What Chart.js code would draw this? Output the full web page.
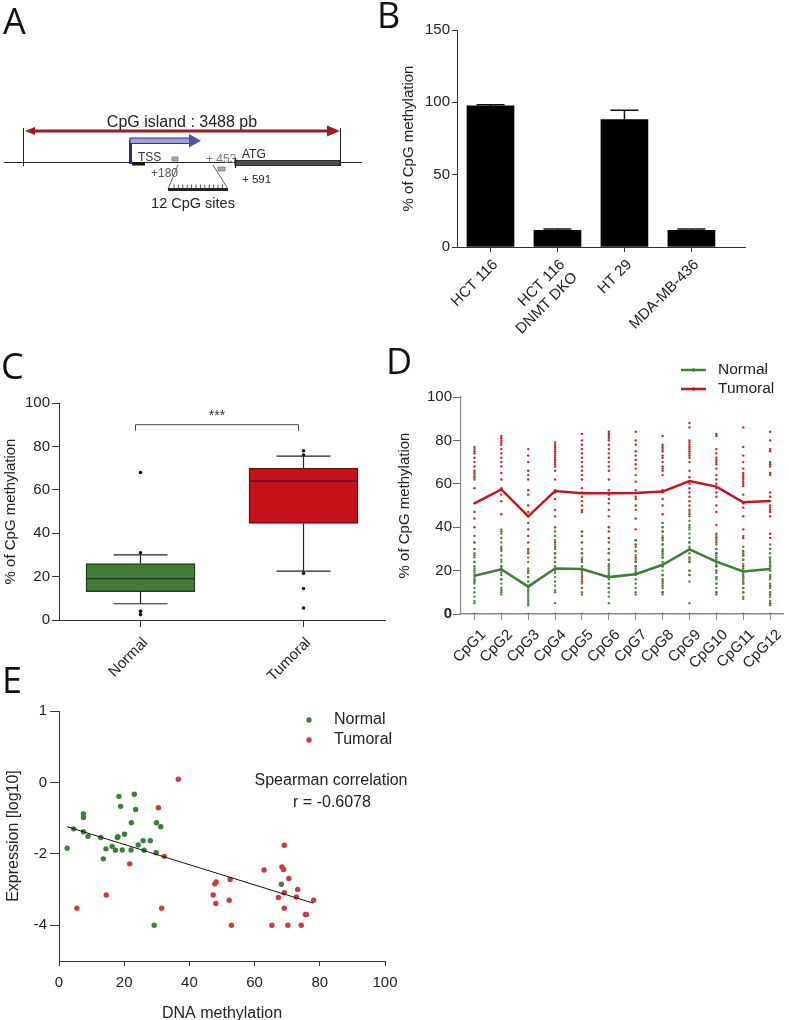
<!DOCTYPE html>
<html>
<head>
<meta charset="utf-8">
<script src="https://cdn.jsdelivr.net/npm/chart.js@4.4.1/dist/chart.umd.min.js"></script>
<style>
html, body { margin: 0; padding: 0; background: #fff; overflow: hidden; width: 789px; height: 1020px; }
canvas { position: absolute; }
.tag { position: absolute; z-index: 2; font: 36px/36px "Open Sans", sans-serif; color: #111; }
</style>
</head>
<body>
<div class="tag" style="left:3px;top:3px">A</div>
<div class="tag" style="left:377px;top:-3px">B</div>
<div class="tag" style="left:1px;top:348px">C</div>
<div class="tag" style="left:386px;top:343px">D</div>
<div class="tag" style="left:2px;top:662px">E</div>

<canvas id="panelA" width="380" height="230" style="left:0;top:0"></canvas>
<canvas id="panelB" width="409" height="345" style="left:380px;top:0"></canvas>
<canvas id="panelC" width="390" height="370" style="left:0;top:330px"></canvas>
<canvas id="panelD" width="399" height="370" style="left:390px;top:330px"></canvas>
<canvas id="panelE" width="420" height="335" style="left:0;top:690px"></canvas>

<script>
// ---- data ----
// B: methylation of cell lines
const cellLines = ['HCT 116', ['HCT 116', 'DNMT DKO'], 'HT 29', 'MDA-MB-436'];
const cellMeth = [97.5, 11.5, 88, 11.5];
const cellErr = [0.8, 1, 6.5, 1];
const bTicks = [0, 50, 100, 150];

// C: box plot normal vs tumoral
const boxGroups = ['Normal', 'Tumoral'];
const boxLow = [7.5, 22.5];
const boxQ1 = [13, 44.5];
const boxMed = [19, 64];
const boxQ3 = [26, 70];
const boxHigh = [30, 75.5];
const normalOut = [68, 31, 4, 2.5];
const tumoralOut = [78, 76, 21.5, 14.5, 5.5];
const cTicks = [0, 20, 40, 60, 80, 100];
const sigLevel = 90;
const sigLabel = '***';

// D: methylation per CpG site
const cpgLabels = ['CpG1', 'CpG2', 'CpG3', 'CpG4', 'CpG5', 'CpG6', 'CpG7', 'CpG8', 'CpG9', 'CpG10', 'CpG11', 'CpG12'];
const normalMean = [17.6, 20.6, 12.6, 21, 20.7, 17, 18.3, 22.7, 29.8, 24.1, 19.6, 20.7];
const tumoralMean = [51, 57.4, 45, 56.7, 55.7, 55.7, 55.8, 56.4, 61.3, 58.7, 51.5, 52.1];
const normalDots = [
    [63, 62, 33, 30, 28, 26, 24, 22, 21, 19, 18, 17, 16, 15, 14, 12, 10, 8, 6, 5],
    [70, 39, 37, 33, 31, 29, 27, 25, 24, 22, 21, 20, 19, 18, 16, 14, 12, 11, 10, 9],
    [29, 26, 24, 21, 19, 17, 15, 13, 12, 11, 10, 9, 8, 7, 6, 5, 4],
    [40, 38, 36, 34, 32, 30, 28, 26, 24, 22, 21, 20, 19, 17, 15, 13, 11, 10, 5],
    [38, 36, 33, 30, 28, 26, 24, 22, 21, 20, 19, 18, 16, 14, 12, 10, 9],
    [28, 25, 23, 22, 21, 20, 19, 18, 17, 16, 14, 12, 10, 8, 5],
    [34, 31, 29, 27, 25, 24, 22, 21, 20, 19, 18, 16, 14, 12, 10, 9],
    [42, 40, 38, 36, 34, 32, 30, 28, 27, 26, 24, 22, 20, 18, 16, 14, 12, 10, 9],
    [47, 45, 43, 41, 40, 39, 37, 35, 33, 31, 30, 28, 26, 25, 24, 20, 18, 15, 5],
    [36, 34, 32, 30, 28, 27, 25, 24, 23, 22, 20, 19, 17, 16, 14, 12, 10, 9],
    [36, 31, 28, 27, 25, 23, 21, 20, 19, 18, 17, 16, 15, 14, 12, 10, 8, 7],
    [32, 30, 28, 26, 25, 24, 23, 22, 21, 20, 18, 16, 14, 12, 10, 8, 6, 4]
];
const tumoralDots = [
    [77, 76, 75, 74, 72, 70, 68, 66, 65, 64, 63, 58, 51, 47, 44, 40, 36, 33, 30, 27, 24, 20, 15, 0],
    [82, 81, 80, 79, 78, 76, 74, 72, 70, 68, 65, 62, 58, 57, 55, 52, 46, 38, 35, 30, 22, 16, 0],
    [76, 73, 70, 66, 64, 62, 57, 55, 50, 47, 45, 42, 39, 36, 33, 30, 28, 20, 19, 17, 0],
    [79, 78, 77, 76, 75, 74, 73, 72, 71, 70, 69, 68, 66, 62, 57, 56, 53, 48, 45, 40, 36, 33, 31, 28, 26, 24, 0],
    [83, 80, 78, 76, 74, 72, 70, 68, 66, 64, 62, 58, 56, 54, 52, 50, 48, 47, 38, 36, 33, 30, 28, 25, 20, 17, 15, 12, 0],
    [84, 83, 82, 81, 80, 78, 76, 74, 72, 70, 68, 66, 62, 57, 55, 53, 51, 48, 45, 40, 38, 35, 33, 30, 28, 25, 22, 18, 14, 12, 0],
    [84, 80, 78, 75, 73, 71, 69, 67, 64, 61, 57, 54, 53, 50, 48, 44, 39, 34, 32, 29, 26, 24, 22, 19, 0],
    [82, 78, 77, 76, 75, 73, 72, 70, 68, 67, 66, 64, 57, 56, 53, 50, 46, 42, 40, 38, 35, 32, 29, 26, 22, 18, 15, 13, 10, 0],
    [88, 86, 80, 79, 78, 77, 76, 75, 74, 73, 72, 70, 66, 63, 60, 58, 56, 54, 52, 50, 48, 46, 33, 30, 26, 24, 20, 18, 0],
    [83, 82, 76, 74, 72, 71, 70, 69, 67, 64, 62, 60, 58, 56, 54, 50, 47, 41, 37, 35, 33, 30, 28, 26, 24, 22, 20, 17, 14, 10, 0],
    [86, 77, 73, 70, 67, 65, 64, 63, 62, 61, 60, 59, 55, 51, 49, 45, 39, 35, 29, 27, 25, 22, 20, 17, 14, 12, 10, 0],
    [84, 80, 76, 75, 70, 69, 68, 65, 64, 56, 54, 52, 50, 49, 48, 47, 45, 37, 35, 30, 26, 24, 22, 20, 17, 13, 9, 5, 0]
];
const dTicks = [0, 20, 40, 60, 80, 100];

// E: expression vs methylation
const normalMeth = [2.5, 4.5, 7.5, 7.5, 7.5, 8.9, 12.8, 13.6, 14.4, 16.3, 17.3, 17.9, 18.1, 18.4, 18.9, 19.4, 20.1, 22.1, 22.2, 23.1, 23.5, 24.3, 25.8, 26.1, 28.0, 29.2, 29.8, 29.9, 31.2, 68.2];
const normalExpr = [-1.84, -1.30, -0.88, -0.98, -1.38, -1.51, -1.54, -2.14, -1.86, -1.79, -1.90, -1.54, -1.52, -0.39, -0.67, -1.89, -1.45, -1.89, -1.13, -0.33, -0.76, -1.75, -1.63, -1.90, -1.63, -4.0, -1.97, -1.13, -1.24, -2.85];
const tumoralMeth = [5.5, 14.5, 21.7, 30.5, 31.5, 32.3, 36.6, 47.3, 47.8, 48.2, 48.1, 52.2, 52.5, 52.9, 62.9, 65.3, 67.3, 68.4, 68.9, 69.1, 69.1, 69.1, 70.2, 70.5, 72.8, 73.2, 74.3, 75.6, 75.9, 78.1];
const tumoralExpr = [-3.52, -3.15, -2.28, -0.71, -3.52, -2.07, 0.09, -3.15, -2.84, -2.79, -3.39, -3.30, -2.72, -4.0, -2.45, -4.0, -3.22, -2.37, -2.44, -1.76, -3.09, -3.52, -4.0, -2.69, -3.21, -3.0, -4.0, -3.70, -3.70, -3.30];
const fitMeth = [2.5, 78];
const fitExpr = [-1.24, -3.38];
const eTickValues = [2, 0, -2, -4];
const eTickLabels = ['1', '0', '-2', '-4'];
const eXTicks = [0, 20, 40, 60, 80, 100];
const spearmanR = '-0.6078';

// ---- common ----
const FONT = '"Liberation Sans", Arial, sans-serif';
Chart.defaults.font.family = FONT;
Chart.defaults.color = '#222';
const GREEN = '#3f7d39';
const RED = '#c5141c';

const base = {
    responsive: false,
    animation: false,
    devicePixelRatio: 1,
    plugins: { legend: { display: false }, tooltip: { enabled: false } }
};

function tickList(vals) {
    return s => { s.ticks = vals.map(v => ({ value: v })); };
}

// ---- A: gene diagram ----
const diagram = {
    id: 'diagram',
    afterDraw(chart) {
        const c = chart.ctx;
        const seg = (x1, y1, x2, y2, col, w) => {
            c.strokeStyle = col; c.lineWidth = w;
            c.beginPath(); c.moveTo(x1, y1); c.lineTo(x2, y2); c.stroke();
        };
        const tri = (pts, col) => {
            c.fillStyle = col; c.beginPath();
            c.moveTo(pts[0][0], pts[0][1]);
            pts.slice(1).forEach(p => c.lineTo(p[0], p[1]));
            c.closePath(); c.fill();
        };
        c.save();
        // genomic line and island borders
        seg(4, 162.5, 362, 162.5, '#222', 1);
        seg(23.5, 128, 23.5, 166, '#222', 1);
        seg(340.5, 128, 340.5, 166, '#222', 1);
        // CpG island arrow
        seg(32, 131, 330, 131, '#9b1c22', 3);
        tri([[25, 131], [35, 127], [35, 135]], '#9b1c22');
        tri([[340, 131], [327, 125.5], [327, 136.5]], '#9b1c22');
        c.fillStyle = '#222';
        c.font = '16px ' + FONT;
        c.textAlign = 'center';
        c.fillText('CpG island : 3488 pb', 182, 127);
        // TSS arrow
        c.strokeStyle = '#2a2d82'; c.lineWidth = 3;
        c.beginPath(); c.moveTo(130.5, 164); c.lineTo(130.5, 140); c.stroke();
        c.fillStyle = '#9ca2d8';
        c.fillRect(130, 138, 60, 5.5);
        c.strokeStyle = '#2d3186'; c.lineWidth = 1;
        c.strokeRect(130, 138, 60, 5.5);
        tri([[201, 140.8], [189, 134], [189, 147.5]], '#4a51a3');
        // TSS
        c.fillStyle = '#111';
        c.fillRect(132, 162.5, 13, 3);
        c.textAlign = 'left';
        c.font = '12px ' + FONT;
        c.fillStyle = '#333';
        c.fillText('TSS', 138, 161);
        c.fillStyle = '#555';
        c.fillText('+180', 151, 177);
        c.fillStyle = '#777';
        c.fillText('+ 453', 206, 163);
        c.fillStyle = '#222';
        c.fillText('ATG', 242, 158);
        c.font = '11.5px ' + FONT;
        c.fillText('+ 591', 242, 183);
        // primers
        c.fillStyle = '#aaa'; c.strokeStyle = '#777'; c.lineWidth = 0.8;
        c.fillRect(172, 157, 6, 4); c.strokeRect(172, 157, 6, 4);
        c.fillRect(218, 167, 7, 4); c.strokeRect(218, 167, 7, 4);
        // coding part
        c.fillStyle = '#4a4a4a';
        c.fillRect(235, 160.5, 105, 5);
        c.strokeStyle = '#111'; c.lineWidth = 0.8;
        c.strokeRect(235, 160.5, 105, 5);
        seg(235.5, 158, 235.5, 168, '#111', 1.2);
        // zoom on the 12 CpG sites
        seg(178, 165, 168, 189, '#666', 1);
        seg(213, 165, 228, 189, '#666', 1);
        c.fillStyle = '#222';
        c.fillRect(168, 188, 60, 3);
        for (let k = 0; k < 12; k++) {
            const xx = 174 + k * 4.4;
            seg(xx, 184.5, xx, 188, '#555', 1);
        }
        c.fillStyle = '#222';
        c.font = '14.5px ' + FONT;
        c.textAlign = 'center';
        c.fillText('12 CpG sites', 193, 208);
        c.restore();
    }
};

new Chart(document.getElementById('panelA'), {
    type: 'scatter',
    data: { datasets: [] },
    options: Object.assign({}, base, {
        scales: { x: { display: false }, y: { display: false } }
    }),
    plugins: [diagram]
});

// ---- B: bar chart with error bars ----
const errorBars = {
    id: 'errorBars',
    afterDatasetsDraw(chart) {
        const { ctx, scales: { x, y } } = chart;
        ctx.save();
        ctx.strokeStyle = '#111';
        ctx.lineWidth = 1.5;
        cellMeth.forEach((v, i) => {
            const cx = x.getPixelForValue(i + 1);
            const top = y.getPixelForValue(v + cellErr[i]);
            ctx.beginPath();
            ctx.moveTo(cx, y.getPixelForValue(v));
            ctx.lineTo(cx, top);
            ctx.moveTo(cx - 14, top);
            ctx.lineTo(cx + 14, top);
            ctx.stroke();
        });
        ctx.restore();
    }
};

new Chart(document.getElementById('panelB'), {
    type: 'bar',
    data: {
        datasets: [{
            data: cellMeth.map((v, i) => ({ x: i + 1, y: v })),
            backgroundColor: '#000',
            barThickness: 47
        }]
    },
    options: Object.assign({}, base, {
        layout: { padding: { left: 16, top: 30, right: 44, bottom: 0 } },
        scales: {
            x: {
                type: 'linear', min: 0.5, max: 4.8, offset: false,
                afterBuildTicks: tickList(cellLines.map((_, i) => i + 1)),
                afterFit: s => { s.height = 98; },
                grid: { drawOnChartArea: false, offset: false, tickLength: 5, color: '#333' },
                border: { color: '#333', width: 1 },
                ticks: { autoSkip: false, minRotation: 45, maxRotation: 45, padding: 4, labelOffset: 5, font: { size: 15 }, callback: (v, i) => cellLines[i] }
            },
            y: {
                min: 0, max: 150,
                afterBuildTicks: tickList(bTicks),
                afterFit: s => { s.width = 61; },
                grid: { drawOnChartArea: false, tickLength: 5, color: '#333' },
                border: { color: '#333', width: 1 },
                ticks: { padding: 2, font: { size: 15 } },
                title: { display: true, text: '% of CpG methylation', font: { size: 15 }, padding: { top: 4, bottom: 0 } }
            }
        }
    }),
    plugins: [errorBars]
});

// ---- C: box plot ----
const boxExtras = {
    id: 'boxExtras',
    afterDatasetsDraw(chart) {
        const { ctx, scales: { x, y } } = chart;
        ctx.save();
        ctx.strokeStyle = '#222';
        ctx.lineWidth = 1.2;
        boxGroups.forEach((g, i) => {
            const cx = x.getPixelForValue(i + 1);
            ctx.beginPath();
            // whiskers
            ctx.moveTo(cx, y.getPixelForValue(boxLow[i]));
            ctx.lineTo(cx, y.getPixelForValue(boxQ1[i]));
            ctx.moveTo(cx, y.getPixelForValue(boxQ3[i]));
            ctx.lineTo(cx, y.getPixelForValue(boxHigh[i]));
            ctx.moveTo(cx - 27, y.getPixelForValue(boxLow[i]));
            ctx.lineTo(cx + 27, y.getPixelForValue(boxLow[i]));
            ctx.moveTo(cx - 27, y.getPixelForValue(boxHigh[i]));
            ctx.lineTo(cx + 27, y.getPixelForValue(boxHigh[i]));
            // median
            ctx.moveTo(cx - 54, y.getPixelForValue(boxMed[i]));
            ctx.lineTo(cx + 54, y.getPixelForValue(boxMed[i]));
            ctx.stroke();
        });
        // significance bracket
        const x1 = x.getPixelForValue(1) - 5;
        const x2 = x.getPixelForValue(2) - 5;
        const yb = y.getPixelForValue(sigLevel);
        ctx.strokeStyle = '#444';
        ctx.lineWidth = 1;
        ctx.beginPath();
        ctx.moveTo(x1, yb + 6); ctx.lineTo(x1, yb); ctx.lineTo(x2, yb); ctx.lineTo(x2, yb + 6);
        ctx.stroke();
        ctx.fillStyle = '#333';
        ctx.font = '14px ' + FONT;
        ctx.textAlign = 'center';
        ctx.fillText(sigLabel, (x1 + x2) / 2, yb - 5);
        ctx.restore();
    }
};

new Chart(document.getElementById('panelC'), {
    type: 'bar',
    data: {
        datasets: [{
            data: boxGroups.map((g, i) => ({ x: i + 1, y: [boxQ1[i], boxQ3[i]] })),
            backgroundColor: ['#457b39', '#c5121a'],
            borderColor: ['#1f3d1c', '#6a0e0e'],
            borderWidth: 1.5,
            borderSkipped: false,
            barThickness: 109
        }, {
            type: 'scatter',
            data: normalOut.map(v => ({ x: 1, y: v })).concat(tumoralOut.map(v => ({ x: 2, y: v }))),
            pointRadius: 1.8,
            borderWidth: 0,
            backgroundColor: '#111'
        }]
    },
    options: Object.assign({}, base, {
        layout: { padding: { left: 0, top: 73, right: 5, bottom: 0 } },
        scales: {
            x: {
                type: 'linear', min: 0.5, max: 2.5, offset: false,
                afterBuildTicks: tickList([1, 2]),
                afterFit: s => { s.height = 80; },
                grid: { drawOnChartArea: false, offset: false, tickLength: 7, color: '#333' },
                border: { color: '#333', width: 1 },
                ticks: { autoSkip: false, minRotation: 45, maxRotation: 45, padding: 7, labelOffset: 5, font: { size: 15 }, callback: (v, i) => boxGroups[i] }
            },
            y: {
                min: 0, max: 100,
                afterBuildTicks: tickList(cTicks),
                afterFit: s => { s.width = 59; },
                grid: { drawOnChartArea: false, tickLength: 7, color: '#333' },
                border: { color: '#333', width: 1 },
                ticks: { padding: 2, font: { size: 15 } },
                title: { display: true, text: '% of CpG methylation', font: { size: 15 }, padding: { top: 2, bottom: 0 } }
            }
        }
    }),
    plugins: [boxExtras]
});

// ---- D: per CpG site ----
const dLegend = {
    id: 'dLegend',
    afterDraw(chart) {
        const c = chart.ctx;
        c.save();
        c.font = '15.5px ' + FONT;
        c.textBaseline = 'middle';
        c.textAlign = 'left';
        [[chart.data.datasets[1], 40], [chart.data.datasets[0], 59]].forEach(([ds, yy]) => {
            c.strokeStyle = ds.borderColor;
            c.lineWidth = 2.5;
            c.beginPath(); c.moveTo(291, yy); c.lineTo(316, yy); c.stroke();
            c.fillStyle = ds.borderColor;
            c.beginPath(); c.arc(303.5, yy, 1.8, 0, Math.PI * 2); c.fill();
            c.fillStyle = '#222';
            c.fillText(ds.label, 328, yy);
        });
        c.restore();
    }
};

function dotPoints(groups) {
    const pts = [];
    groups.forEach((vals, i) => vals.forEach(v => pts.push({ x: cpgLabels[i], y: v })));
    return pts;
}

new Chart(document.getElementById('panelD'), {
    type: 'line',
    data: {
        labels: cpgLabels,
        datasets: [
            { label: 'Tumoral', data: tumoralMean, borderColor: RED, borderWidth: 2.5, pointRadius: 0, order: 0 },
            { label: 'Normal', data: normalMean, borderColor: GREEN, borderWidth: 2.5, pointRadius: 0, order: 0 },
            { label: 'normal dots', data: dotPoints(normalDots), showLine: false, pointRadius: 1.2, borderWidth: 0, backgroundColor: '#4a8a44', order: 1 },
            { label: 'tumoral dots', data: dotPoints(tumoralDots), showLine: false, pointRadius: 1.2, borderWidth: 0, backgroundColor: '#c8262c', order: 2 }
        ]
    },
    options: Object.assign({}, base, {
        layout: { padding: { left: 6, top: 67, right: 2, bottom: 0 } },
        scales: {
            x: {
                offset: true,
                afterFit: s => { s.height = 86; },
                grid: { drawOnChartArea: false, offset: false, tickLength: 6, color: '#888' },
                border: { color: '#888', width: 1.5 },
                ticks: { autoSkip: false, minRotation: 45, maxRotation: 45, padding: 6, labelOffset: 9, font: { size: 15 } }
            },
            y: {
                min: 0, max: 100,
                afterBuildTicks: tickList(dTicks),
                afterFit: s => { s.width = 65; },
                grid: { drawOnChartArea: false, tickLength: 8, color: '#666' },
                border: { color: '#888', width: 1.2 },
                ticks: {
                    padding: 1,
                    font: c => ({ size: 15, weight: c.tick && c.tick.value === 0 ? 'bold' : 'normal' })
                },
                title: { display: true, text: '% of CpG methylation', font: { size: 15 }, padding: { top: 0, bottom: 0 } }
            }
        }
    }),
    plugins: [dLegend]
});

// ---- E: scatter ----
const eLegend = {
    id: 'eLegend',
    afterDraw(chart) {
        const c = chart.ctx;
        c.save();
        c.font = '16px ' + FONT;
        c.textBaseline = 'middle';
        c.textAlign = 'left';
        [[chart.data.datasets[1], 30], [chart.data.datasets[2], 50]].forEach(([ds, yy]) => {
            c.fillStyle = ds.backgroundColor;
            c.beginPath(); c.arc(309, yy, 2.7, 0, Math.PI * 2); c.fill();
            c.fillStyle = '#222';
            c.fillText(ds.label, 334, yy);
        });
        c.textAlign = 'center';
        c.fillText('Spearman correlation', 331, 91);
        c.fillText('r = ' + spearmanR, 332, 113);
        c.restore();
    }
};

new Chart(document.getElementById('panelE'), {
    type: 'scatter',
    data: {
        datasets: [
            { type: 'line', label: 'fit', data: fitMeth.map((v, i) => ({ x: v, y: fitExpr[i] })), showLine: true, borderColor: '#111', borderWidth: 1, pointRadius: 0 },
            { label: 'Normal', data: normalMeth.map((v, i) => ({ x: v, y: normalExpr[i] })), pointRadius: 2.7, borderWidth: 0, backgroundColor: '#3f7e3a' },
            { label: 'Tumoral', data: tumoralMeth.map((v, i) => ({ x: v, y: tumoralExpr[i] })), pointRadius: 2.7, borderWidth: 0, backgroundColor: '#cf3a3a' }
        ]
    },
    options: Object.assign({}, base, {
        layout: { padding: { left: 4, top: 21, right: 35, bottom: 0 } },
        scales: {
            x: {
                type: 'linear', min: 0, max: 100,
                afterBuildTicks: tickList(eXTicks),
                afterFit: s => { s.height = 64; },
                grid: { drawOnChartArea: false, tickLength: 5, color: '#333' },
                border: { color: '#333', width: 1 },
                ticks: { padding: 8, font: { size: 15 } },
                title: { display: true, text: 'DNA methylation', font: { size: 16 }, padding: { top: 4, bottom: 2 } }
            },
            y: {
                min: -5, max: 2,
                afterBuildTicks: tickList(eTickValues),
                afterFit: s => { s.width = 55; },
                grid: { drawOnChartArea: false, tickLength: 9, color: '#333' },
                border: { color: '#333', width: 1 },
                ticks: { padding: 3, font: { size: 15 }, callback: (v, i) => eTickLabels[i] },
                title: { display: true, text: 'Expression [log10]', font: { size: 16 }, padding: { top: 0, bottom: 0 } }
            }
        }
    }),
    plugins: [eLegend]
});
</script>
</body>
</html>
